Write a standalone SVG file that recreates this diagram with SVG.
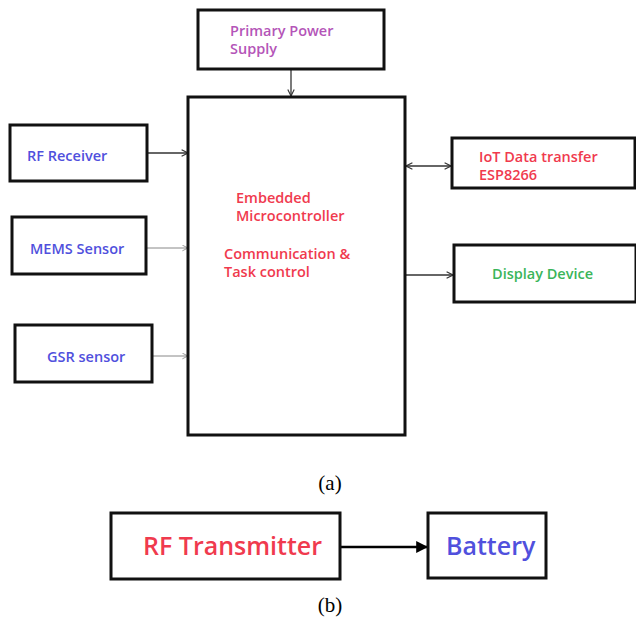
<svg xmlns="http://www.w3.org/2000/svg" width="636" height="622" viewBox="0 0 636 622">
<defs>
<marker id="open" viewBox="0 0 10 10" refX="9" refY="5" markerWidth="8" markerHeight="8" markerUnits="userSpaceOnUse" orient="auto-start-reverse">
<path d="M1,1 L9,5 L1,9" fill="none" stroke="#333" stroke-width="1.4"/>
</marker>
<marker id="opengray" viewBox="0 0 10 10" refX="9" refY="5" markerWidth="7" markerHeight="7" markerUnits="userSpaceOnUse" orient="auto">
<path d="M1,1 L9,5 L1,9" fill="none" stroke="#888" stroke-width="1.2"/>
</marker>
<marker id="solid" viewBox="0 0 10 10" refX="9" refY="5" markerWidth="12" markerHeight="12" markerUnits="userSpaceOnUse" orient="auto">
<path d="M0,0 L10,5 L0,10 Z" fill="#000"/>
</marker>
</defs>
<style>
.box{fill:#fff;stroke:#111;stroke-width:3}
.t{font-family:"Open Sans","DejaVu Sans",sans-serif;font-size:14.5px;font-weight:600}
.purple{fill:#b455b8}
.blue{fill:#5050dd}
.red{fill:#f03a4e}
.green{fill:#3ab55a}
.cap{font-family:"Liberation Serif","Times New Roman",serif;font-size:21px;fill:#000}
.big{font-family:"Open Sans","DejaVu Sans",sans-serif;font-size:25px;font-weight:600}
</style>
<rect width="636" height="622" fill="#fff"/>
<g id="connectors">
<line x1="291" y1="69" x2="291" y2="96" stroke="#333" stroke-width="1.3" marker-end="url(#open)"/>
<line x1="147" y1="153" x2="188" y2="153" stroke="#333" stroke-width="1.3" marker-end="url(#open)"/>
<line x1="146" y1="248" x2="188" y2="248" stroke="#888" stroke-width="1" marker-end="url(#opengray)"/>
<line x1="152" y1="356" x2="188" y2="356" stroke="#888" stroke-width="1" marker-end="url(#opengray)"/>
<line x1="406" y1="166" x2="451" y2="166" stroke="#333" stroke-width="1.3" marker-start="url(#open)" marker-end="url(#open)"/>
<line x1="406" y1="275" x2="453" y2="275" stroke="#333" stroke-width="1.3" marker-end="url(#open)"/>
<line x1="340" y1="547" x2="427" y2="547" stroke="#000" stroke-width="2.5" marker-end="url(#solid)"/>
</g>
<g id="power">
<rect class="box" x="198" y="10" width="186" height="59"/>
<text class="t purple" x="230" y="36">Primary Power</text>
<text class="t purple" x="230" y="54">Supply</text>
</g>
<g id="mcu">
<rect class="box" x="188" y="97" width="217" height="338"/>
<text class="t red" x="236" y="203">Embedded</text>
<text class="t red" x="236" y="221">Microcontroller</text>
<text class="t red" x="224" y="259">Communication &amp;</text>
<text class="t red" x="224" y="277">Task control</text>
</g>
<g id="rf-receiver">
<rect class="box" x="10" y="125" width="137" height="56"/>
<text class="t blue" x="27" y="161">RF Receiver</text>
</g>
<g id="mems">
<rect class="box" x="12" y="217" width="134" height="57"/>
<text class="t blue" x="30" y="254">MEMS Sensor</text>
</g>
<g id="gsr">
<rect class="box" x="15" y="325" width="137" height="57"/>
<text class="t blue" x="47" y="362">GSR sensor</text>
</g>
<g id="iot">
<rect class="box" x="452" y="138" width="183" height="50"/>
<text class="t red" x="479" y="162">IoT Data transfer</text>
<text class="t red" x="479" y="180">ESP8266</text>
</g>
<g id="display">
<rect class="box" x="454" y="245" width="182" height="57"/>
<text class="t green" x="492" y="279">Display Device</text>
</g>
<text class="cap" x="330" y="490" text-anchor="middle">(a)</text>
<g id="rf-transmitter">
<rect class="box" x="111" y="513" width="229" height="66"/>
<text class="big red" x="143" y="555">RF Transmitter</text>
</g>
<g id="battery">
<rect class="box" x="428" y="513" width="118" height="65"/>
<text class="big blue" x="446" y="555">Battery</text>
</g>
<text class="cap" x="330" y="612" text-anchor="middle">(b)</text>
</svg>
